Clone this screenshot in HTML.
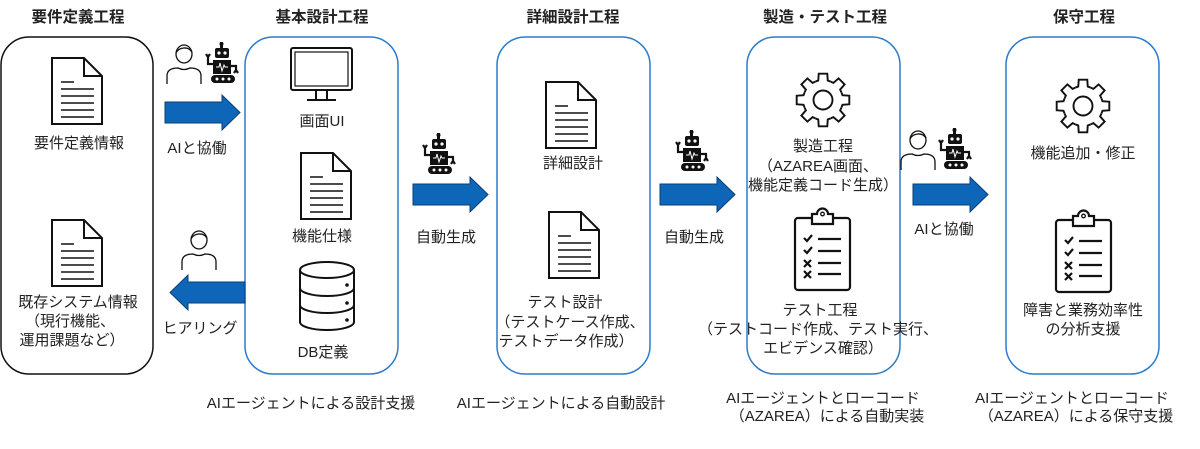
<!DOCTYPE html>
<html><head><meta charset="utf-8"><style>
html,body{margin:0;padding:0;background:#fff;width:1200px;height:449px;overflow:hidden}
svg text{font-family:"Liberation Sans","Noto Sans CJK JP",sans-serif;font-size:15px;fill:#222;text-anchor:middle}
svg text.t{font-weight:bold;font-size:15.5px}
</style></head><body>
<svg width="1200" height="449" viewBox="0 0 1200 449" xmlns="http://www.w3.org/2000/svg">
<defs>
<g id="doc" fill="none" stroke="#111" stroke-width="2">
 <path d="M0,0 H32 L50,18 V66 H0 Z" fill="#fff"/>
 <path d="M32,0 V18 H50"/>
 <path d="M9,24 H22 M9,31 H42 M9,38 H42 M9,45 H42 M9,52 H42 M9,59 H42" stroke-width="1.6"/>
</g>
<g id="robot">
 <rect x="9" y="0" width="3" height="6" fill="#111"/><circle cx="10.5" cy="2" r="2" fill="#111"/>
 <rect x="4" y="6" width="14" height="10" rx="2" fill="#111"/>
 <circle cx="8" cy="11" r="1.6" fill="#fff"/><circle cx="14" cy="11" r="1.6" fill="#fff"/>
 <rect x="2" y="18" width="18" height="14" fill="#111"/>
 <path d="M5,25 H8 L9,21 L11,29 L13,23 L14,25 H17" stroke="#fff" stroke-width="1" fill="none"/>
 <path d="M2,22 L-3,22 L-3,14 M-5,12 L-3,15 L-1,12" stroke="#111" stroke-width="2.2" fill="none"/>
 <path d="M20,24 L25,24 L25,29 M23,31 L25,28 L27,31" stroke="#111" stroke-width="2.2" fill="none"/>
 <rect x="0" y="33" width="24" height="8" rx="4" fill="#111"/>
 <circle cx="6" cy="37" r="1.5" fill="#fff"/><circle cx="12" cy="37" r="1.5" fill="#fff"/><circle cx="18" cy="37" r="1.5" fill="#fff"/>
</g>
<g id="person" fill="none" stroke="#111" stroke-width="1.3">
 <ellipse cx="18" cy="10" rx="8" ry="9" fill="#fff"/>
 <path d="M10,9 C13,3 22,2 26,8"/>
 <path d="M1,40 V32 C1,26 6,24 12,24 Q18,27 24,24 C30,24 35,26 35,32 V40"/>
</g>
<g id="gear" fill="none" stroke="#111" stroke-width="2">
 <polyline id="tooth" points="-8.0,-19.4 -5,-20.5 -4.5,-27.7 4.5,-27.7 5,-20.5 8.0,-19.4"/>
 <use href="#tooth" transform="rotate(45)"/><use href="#tooth" transform="rotate(90)"/>
 <use href="#tooth" transform="rotate(135)"/><use href="#tooth" transform="rotate(180)"/>
 <use href="#tooth" transform="rotate(225)"/><use href="#tooth" transform="rotate(270)"/>
 <use href="#tooth" transform="rotate(315)"/>
 <circle r="10"/>
</g>
<g id="clip" fill="none" stroke="#111" stroke-width="2.2">
 <rect x="0" y="8" width="55" height="72" rx="3"/>
 <path d="M17,14 V4 H22 A5.5,5.5 0 0 1 33,4 H38 V14 Z" fill="#fff"/>
 <circle cx="27.5" cy="4" r="1.8" stroke-width="1.3"/>
 <path d="M9,28 L12,31 L17,25 M9,40 L12,43 L17,37 M9,50 L16,57 M16,50 L9,57 M9,61 L16,68 M16,61 L9,68"/>
 <path d="M23,29 H46 M23,41 H46 M23,53 H46 M23,64 H46"/>
</g>
<g id="rarrow"><path d="M0,7 H57 V0 L75,17.5 L57,35 V28 H0 Z" fill="#0d66b8" stroke="#0a3e73" stroke-width="1"/></g>
</defs>

<text class="t" x="78" y="22">要件定義工程</text>
<text class="t" x="322" y="22">基本設計工程</text>
<text class="t" x="573" y="22">詳細設計工程</text>
<text class="t" x="825" y="22">製造・テスト工程</text>
<text class="t" x="1084" y="22">保守工程</text>

<rect x="1" y="37" width="152" height="337" rx="28" fill="none" stroke="#111" stroke-width="1.5"/>
<rect x="245" y="37" width="153" height="337" rx="28" fill="none" stroke="#2a7ccc" stroke-width="1.5"/>
<rect x="497" y="37" width="153" height="337" rx="28" fill="none" stroke="#2a7ccc" stroke-width="1.5"/>
<rect x="747" y="37" width="153" height="337" rx="28" fill="none" stroke="#2a7ccc" stroke-width="1.5"/>
<rect x="1006" y="37" width="153" height="337" rx="28" fill="none" stroke="#2a7ccc" stroke-width="1.5"/>

<use href="#doc" x="52" y="58"/>
<text x="79" y="148">要件定義情報</text>
<use href="#doc" x="52" y="220"/>
<text x="78" y="307">既存システム情報</text>
<text x="70" y="326">（現行機能、</text>
<text x="72" y="345">運用課題など）</text>

<g fill="none" stroke="#111" stroke-width="2">
 <rect x="291" y="48" width="61" height="42" rx="2"/>
 <rect x="295" y="52" width="53" height="34" stroke-width="1.2"/>
 <path d="M316,90 V99 M327,90 V99 M307,100 H336"/>
</g>
<text x="322" y="126">画面UI</text>
<use href="#doc" x="301" y="153"/>
<text x="322" y="241">機能仕様</text>
<g fill="#fff" stroke="#111" stroke-width="2">
 <path d="M300,270 V322 A27,8 0 0 0 354,322 V270"/>
 <path d="M300,288 A27,8 0 0 0 354,288 M300,305 A27,8 0 0 0 354,305" fill="none"/>
 <ellipse cx="327" cy="270" rx="27" ry="8"/>
</g>
<circle cx="347" cy="285" r="1.8" fill="#111"/><circle cx="347" cy="303" r="1.8" fill="#111"/><circle cx="347" cy="320" r="1.8" fill="#111"/>
<text x="323" y="357">DB定義</text>

<use href="#doc" x="546" y="82"/>
<text x="573" y="168">詳細設計</text>
<use href="#doc" x="549" y="212"/>
<text x="565" y="307">テスト設計</text>
<text x="570" y="327">（テストケース作成、</text>
<text x="566" y="346">テストデータ作成）</text>

<use href="#gear" transform="translate(823,100) scale(0.95)"/>
<text x="823" y="151">製造工程</text>
<text x="818" y="171">（AZAREA画面、</text>
<text x="823" y="190">機能定義コード生成）</text>
<use href="#clip" x="795" y="210"/>
<text x="820" y="315">テスト工程</text>
<text x="818" y="334">（テストコード作成、テスト実行、</text>
<text x="823" y="353">エビデンス確認）</text>

<use href="#gear" transform="translate(1083,106) scale(0.95)"/>
<text x="1083" y="158">機能追加・修正</text>
<use href="#clip" x="1056" y="212"/>
<text x="1083" y="315">障害と業務効率性</text>
<text x="1083" y="334">の分析支援</text>

<use href="#rarrow" x="165" y="95"/>
<g transform="translate(245,275) scale(-1,1)"><use href="#rarrow"/></g>
<use href="#rarrow" x="413" y="177"/>
<use href="#rarrow" x="660" y="177"/>
<use href="#rarrow" x="913" y="177"/>

<use href="#person" x="166" y="44"/>
<use href="#robot" x="211" y="42"/>
<use href="#person" x="181" y="230"/>
<use href="#robot" x="428" y="133"/>
<use href="#robot" x="681" y="130"/>
<use href="#person" x="900" y="130"/>
<use href="#robot" x="944" y="128"/>

<text x="197" y="153">AIと協働</text>
<text x="200" y="333">ヒアリング</text>
<text x="446" y="242">自動生成</text>
<text x="694" y="242">自動生成</text>
<text x="944" y="234">AIと協働</text>

<text x="311" y="408">AIエージェントによる設計支援</text>
<text x="561" y="408">AIエージェントによる自動設計</text>
<text x="823" y="403">AIエージェントとローコード</text>
<text x="827" y="421">（AZAREA）による自動実装</text>
<text x="1072" y="403">AIエージェントとローコード</text>
<text x="1076" y="421">（AZAREA）による保守支援</text>
</svg>
</body></html>
